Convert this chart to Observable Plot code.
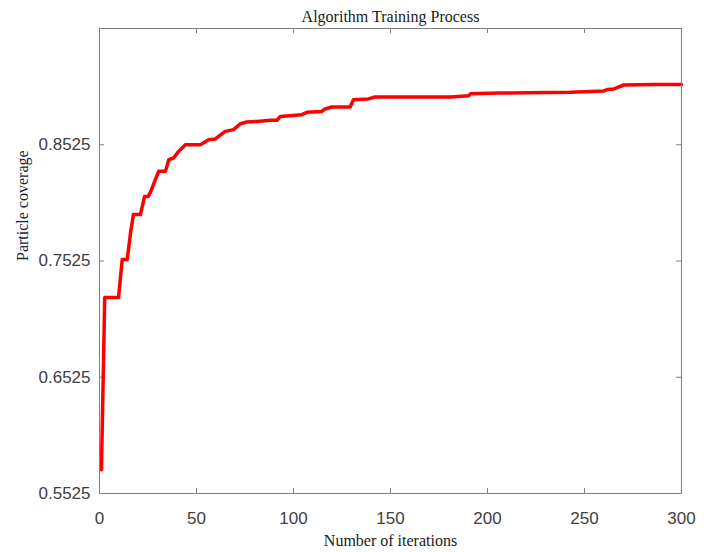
<!DOCTYPE html>
<html><head><meta charset="utf-8">
<script src="https://cdn.jsdelivr.net/npm/d3@7"></script>
<script src="https://cdn.jsdelivr.net/npm/@observablehq/plot@0.6"></script>
<style>body{margin:0;background:#fff} #chart svg{display:block}</style>
</head><body><div id="chart"></div>
<script>
const title = "Algorithm Training Process";
const xLabel = "Number of iterations";
const yLabel = "Particle coverage";
const xTicks = [0, 50, 100, 150, 200, 250, 300];
const yTicks = [0.5525, 0.6525, 0.7525, 0.8525];
const iterations = [1, 2.7, 9.8, 11.7, 14.3, 16, 17.5, 21.1, 23.2, 25, 26.2, 28.8, 30.5, 34, 35.7, 38.2, 40.8, 44.3, 52, 56.3, 59.7, 64.8, 69.1, 72.6, 76, 81.2, 88, 91.5, 93.2, 104.3, 106.9, 114.6, 116.3, 119.8, 129.2, 130.9, 138.6, 142, 181, 190.4, 191.2, 205.8, 242.8, 260, 261.7, 265.1, 270.3, 285.7, 300];
const coverage = [0.573, 0.721, 0.721, 0.7537, 0.7537, 0.7769, 0.7924, 0.7924, 0.8079, 0.8079, 0.8113, 0.8225, 0.8296, 0.8296, 0.8397, 0.8411, 0.8468, 0.8526, 0.8526, 0.8569, 0.8575, 0.8640, 0.8655, 0.8706, 0.8721, 0.8726, 0.8735, 0.8735, 0.8769, 0.8784, 0.8804, 0.8812, 0.8833, 0.8850, 0.8850, 0.8913, 0.8919, 0.8936, 0.8936, 0.8947, 0.8964, 0.8970, 0.8976, 0.8988, 0.9000, 0.9005, 0.9039, 0.9044, 0.9044];

const W = 711, H = 552, mL = 99, mR = 30, mT = 28, mB = 59;
const innerW = W - mL - mR, innerH = H - mT - mB;
const tickLen = 5;
const data = iterations.map((x, i) => ({x, y: coverage[i]}));
const serif = "'Liberation Serif','Times New Roman',serif";
const sans = "'Liberation Sans',Arial,sans-serif";
const frameColor = "#7f7f7f";

const chart = Plot.plot({
  width: W, height: H,
  marginLeft: mL, marginRight: mR, marginTop: mT, marginBottom: mB,
  style: {background: "#fff", fontFamily: sans, fontSize: "17px", color: "#404040"},
  x: {domain: [0, 300]},
  y: {domain: [0.5525, 0.9525]},
  marks: [
    Plot.axisX(xTicks, {tickSize: 0, tickPadding: 18, fontSize: 17, label: null}),
    Plot.axisY(yTicks, {tickSize: 0, tickPadding: 9, fontSize: 17, tickFormat: d3.format(".4f"), label: null}),
    Plot.tickX(xTicks, {x: d => d, insetTop: innerH - tickLen, stroke: frameColor}),
    Plot.tickX(xTicks, {x: d => d, insetBottom: innerH - tickLen, stroke: frameColor}),
    Plot.tickY(yTicks, {y: d => d, insetRight: innerW - tickLen, stroke: frameColor}),
    Plot.tickY(yTicks, {y: d => d, insetLeft: innerW - tickLen, stroke: frameColor}),
    Plot.line(data, {x: "x", y: "y", stroke: "#ff0000", strokeWidth: 3.5, strokeLinejoin: "round"}),
    Plot.frame({stroke: frameColor}),
    Plot.text([title], {text: d => d, frameAnchor: "top", dy: -12, lineAnchor: "middle", fontFamily: serif, fontSize: 16, fill: "#1a1a1a"}),
    Plot.text([xLabel], {text: d => d, frameAnchor: "bottom", dy: 47, lineAnchor: "middle", fontFamily: serif, fontSize: 16, fill: "#1a1a1a"}),
    Plot.text([yLabel], {text: d => d, frameAnchor: "left", dx: -77, rotate: -90, lineAnchor: "middle", fontFamily: serif, fontSize: 16, fill: "#1c2233"})
  ]
});
document.getElementById("chart").append(chart);
</script>
</body></html>
